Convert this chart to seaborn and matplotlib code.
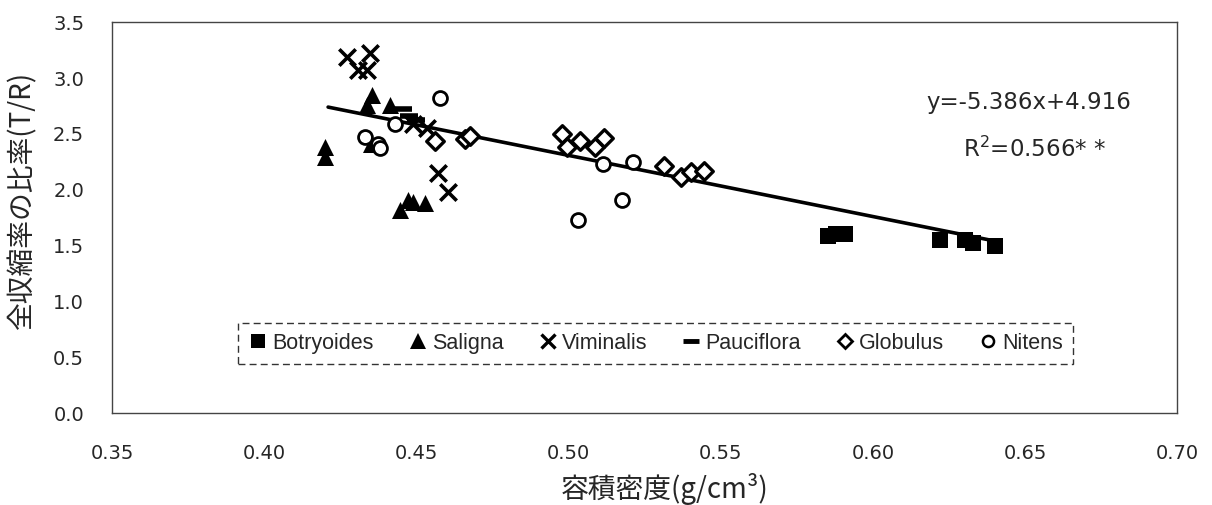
import numpy as np
import pandas as pd
import matplotlib
matplotlib.use("Agg")
import matplotlib.pyplot as plt
from matplotlib.lines import Line2D
import seaborn as sns

sns.set_theme(style="white")
plt.rcParams['font.family'] = ['DejaVu Sans', 'Noto Sans CJK JP']

# ---- data ----
botryoides_x = [0.5853, 0.5879, 0.5908, 0.6221, 0.6303, 0.6330, 0.6402]
botryoides_y = [1.59, 1.60, 1.60, 1.55, 1.55, 1.52, 1.50]

saligna_x = [0.4200, 0.4200, 0.4353, 0.4337, 0.4414, 0.4350, 0.4446, 0.4474, 0.4489, 0.4529]
saligna_y = [2.38, 2.29, 2.85, 2.76, 2.76, 2.41, 1.82, 1.91, 1.89, 1.88]

viminalis_x = [0.4271, 0.4348, 0.4308, 0.4337, 0.4490, 0.4534, 0.4572, 0.4605]
viminalis_y = [3.19, 3.22, 3.07, 3.07, 2.59, 2.55, 2.15, 1.98]

pauciflora_x = [0.4455, 0.4475, 0.4500]
pauciflora_y = [2.72, 2.66, 2.62]

globulus_x = [0.4561, 0.4660, 0.4676, 0.4978, 0.4994, 0.5036, 0.5087, 0.5117,
              0.5312, 0.5368, 0.5402, 0.5445]
globulus_y = [2.44, 2.45, 2.48, 2.50, 2.38, 2.44, 2.38, 2.46,
              2.21, 2.11, 2.16, 2.17]

nitens_x = [0.4331, 0.4375, 0.4381, 0.4430, 0.4578, 0.5114, 0.5213, 0.5175, 0.5032]
nitens_y = [2.47, 2.41, 2.37, 2.59, 2.82, 2.23, 2.25, 1.91, 1.73]

species = ["Botryoides", "Saligna", "Viminalis", "Pauciflora", "Globulus", "Nitens"]
xs = [botryoides_x, saligna_x, viminalis_x, pauciflora_x, globulus_x, nitens_x]
ys = [botryoides_y, saligna_y, viminalis_y, pauciflora_y, globulus_y, nitens_y]

# trend line as drawn in the chart (end points)
trend_x = [0.421, 0.642]
trend_y = [2.74, 1.53]

equation_text = "y=-5.386x+4.916"
r2_text = "R$^2$=0.566* *"

x_ticks = [0.35, 0.40, 0.45, 0.50, 0.55, 0.60, 0.65, 0.70]
y_ticks = [0.0, 0.5, 1.0, 1.5, 2.0, 2.5, 3.0, 3.5]

frames = [pd.DataFrame({"x": x, "y": y, "species": s}) for s, x, y in zip(species, xs, ys)]
df = pd.concat(frames, ignore_index=True)
trend_df = pd.DataFrame({"x": trend_x, "y": trend_y})

# ---- figure ----
fig = plt.figure(figsize=(12.12, 5.05), dpi=100)
ax = fig.add_axes([0.0924, 0.182, 0.879, 0.774])

styles = {
    "Botryoides": dict(marker="s", s=130, color="black", edgecolor="black", linewidth=0),
    "Saligna": dict(marker="^", s=150, color="black", edgecolor="black", linewidth=0),
    "Viminalis": dict(marker="x", s=140, color="black", linewidth=2.6),
    "Pauciflora": dict(marker="_", s=180, color="black", linewidth=4),
    "Globulus": dict(marker="D", s=80, facecolor="white", edgecolor="black", linewidth=2.4),
    "Nitens": dict(marker="o", s=100, facecolor="white", edgecolor="black", linewidth=2.0),
}

sns.lineplot(data=trend_df, x="x", y="y", color="black", linewidth=2.6, ax=ax, zorder=2)

for s in species:
    sub = df[df["species"] == s]
    sns.scatterplot(data=sub, x="x", y="y", ax=ax, zorder=3, legend=False, **styles[s])

ax.set_xlim(0.35, 0.70)
ax.set_ylim(0.0, 3.5)
ax.set_xticks(x_ticks)
ax.set_yticks(y_ticks)
ax.set_xticklabels([f"{v:.2f}" for v in x_ticks], fontsize=14)
ax.set_yticklabels([f"{v:.1f}" for v in y_ticks], fontsize=14)
ax.tick_params(axis="x", direction="in", length=5, width=1, color="#444444", pad=22)
ax.tick_params(axis="y", direction="in", length=5, width=1, color="#444444", pad=20)

for sp in ax.spines.values():
    sp.set_visible(True)
    sp.set_color("#444444")
    sp.set_linewidth(1.0)

ax.set_xlabel("容積密度(g/cm³)", fontsize=20, family=['Noto Sans CJK JP', 'DejaVu Sans'])
ax.set_ylabel("全収縮率の比率(T/R)", fontsize=20, family=['Noto Sans CJK JP', 'DejaVu Sans'])
ax.xaxis.set_label_coords(0.519, -0.152)
ax.yaxis.set_label_coords(-0.07, 0.545)

ax.text(0.861, 0.795, equation_text, transform=ax.transAxes, ha="center", va="center", fontsize=16.5)
ax.text(0.866, 0.675, r2_text, transform=ax.transAxes, ha="center", va="center", fontsize=16.5)

# legend
leg_markers = {
    "Botryoides": dict(marker="s", markersize=10, markerfacecolor="black", markeredgewidth=0),
    "Saligna": dict(marker="^", markersize=11, markerfacecolor="black", markeredgewidth=0),
    "Viminalis": dict(marker="x", markersize=10, markeredgewidth=2.4),
    "Pauciflora": dict(marker="_", markersize=12, markeredgewidth=3.5),
    "Globulus": dict(marker="D", markersize=7, markerfacecolor="white", markeredgewidth=2),
    "Nitens": dict(marker="o", markersize=8, markerfacecolor="white", markeredgewidth=1.8),
}
handles = [Line2D([], [], linestyle="none", color="black", markeredgecolor="black", **leg_markers[s])
           for s in species]
leg = ax.legend(handles, species, ncol=6, loc="center", bbox_to_anchor=(0.51, 0.178),
                frameon=True, fancybox=False, handletextpad=0.15,
                columnspacing=1.55, handlelength=1.0, borderpad=0.45,
                prop=dict(family=['Liberation Sans Narrow', 'Liberation Sans', 'DejaVu Sans'], size=15.5))
frame = leg.get_frame()
frame.set_linestyle((0, (5, 3)))
frame.set_edgecolor("black")
frame.set_linewidth(1.0)

fig.savefig("out.png", dpi=100)
